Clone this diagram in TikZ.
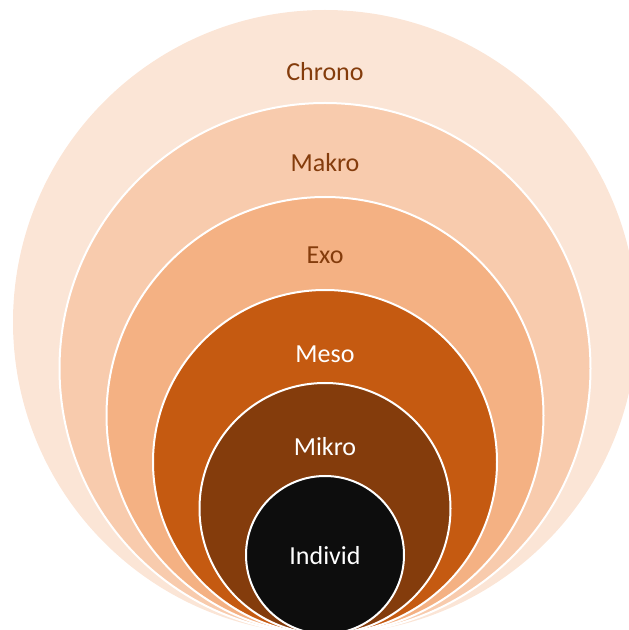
\documentclass[tikz,border=0pt]{standalone}
\usepackage{fontspec}
\setmainfont{Carlito}
\definecolor{cChrono}{HTML}{FBE5D6}
\definecolor{cMakro}{HTML}{F8CBAD}
\definecolor{cExo}{HTML}{F4B183}
\definecolor{cMeso}{HTML}{C55A11}
\definecolor{cMikro}{HTML}{843C0C}
\definecolor{cIndivid}{HTML}{0D0D0D}
\definecolor{cDarkText}{HTML}{843C0C}
\begin{document}
\begin{tikzpicture}[x=1pt,y=1pt,
  ring/.style={circle, draw=white, line width=2pt, inner sep=0pt, outer sep=0pt},
  lbl/.style={font=\fontsize{26}{30}\selectfont, anchor=center, inner sep=0pt},
  darklbl/.style={lbl, text=cDarkText},
  lightlbl/.style={lbl, text=white}]
\useasboundingbox (0,0) rectangle (629,630);
\clip (0,0) rectangle (629,630);
\node[ring, fill=cChrono, draw=none, minimum size=624pt] (chrono) at (325,308) {};
\node[ring, fill=cMakro, minimum size=531pt] (makro) at (325,261.5) {};
\node[ring, fill=cExo, minimum size=437pt] (exo) at (325,214.5) {};
\node[ring, fill=cMeso, minimum size=344pt] (meso) at (325,168) {};
\node[ring, fill=cMikro, minimum size=251pt] (mikro) at (325,121.5) {};
\node[ring, fill=cIndivid, minimum size=158pt] (individ) at (325,75) {};
\node[darklbl] (tchrono) at (325,558) {Chrono};
\node[darklbl] (tmakro) at (325,467) {Makro};
\node[darklbl] (texo) at (325,375) {Exo};
\node[lightlbl] (tmeso) at (325,276) {Meso};
\node[lightlbl] (tmikro) at (325,183) {Mikro};
\node[lightlbl] (tindivid) at (325,74) {Individ};
\end{tikzpicture}
\end{document}
